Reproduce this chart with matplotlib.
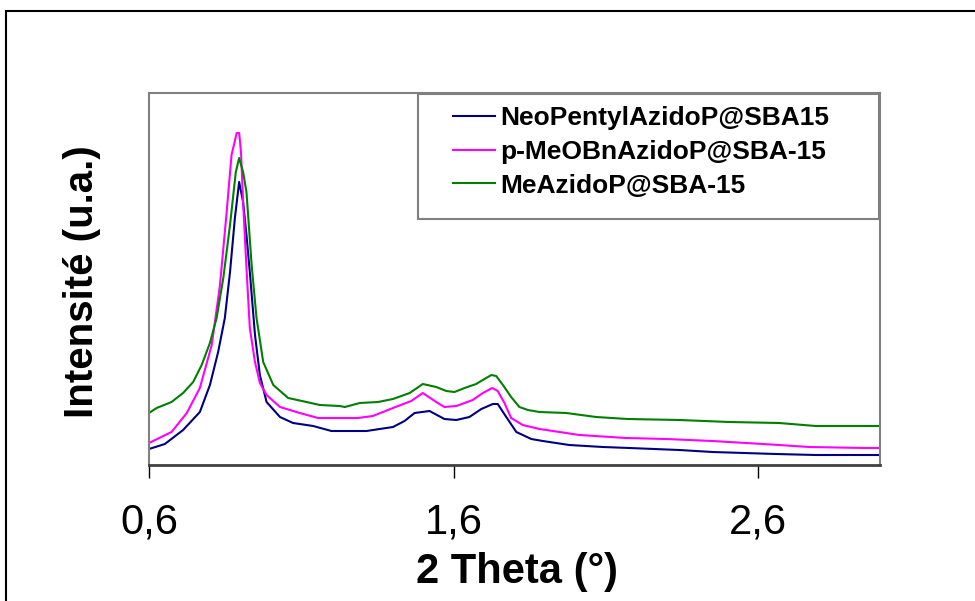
import numpy as np
import matplotlib
matplotlib.use("Agg")
import matplotlib.pyplot as plt
from matplotlib.patches import Rectangle

plt.rcParams['font.family'] = ['Liberation Sans', 'DejaVu Sans']

# XRD small-angle patterns (2 theta in degrees, intensity in arbitrary units)
x_neo = [0.60, 0.652, 0.712, 0.767, 0.800, 0.827, 0.849, 0.866, 0.882, 0.896, 0.909, 0.920, 0.931, 0.948, 0.964,
         0.986, 1.030, 1.073, 1.139, 1.199, 1.314, 1.401, 1.439, 1.472, 1.521, 1.570, 1.609, 1.652, 1.691, 1.729,
         1.745, 1.773, 1.806, 1.855, 1.893, 1.980, 2.090, 2.177, 2.341, 2.450, 2.658, 2.789, 3.000]
y_neo = [16, 21, 35, 53, 80, 113, 147, 193, 247, 283, 263, 230, 193, 130, 90,
         63, 48, 42, 39, 34, 34, 38, 44, 52, 54, 46, 45, 48, 56, 61,
         61, 48, 33, 26, 24, 20, 18, 17, 15, 13, 11, 10, 10]

x_meobn = [0.60, 0.674, 0.724, 0.767, 0.806, 0.833, 0.855, 0.871, 0.888, 0.896, 0.902, 0.909, 0.920, 0.931, 0.948,
           0.964, 0.986, 1.030, 1.095, 1.155, 1.286, 1.335, 1.401, 1.461, 1.499, 1.543, 1.570, 1.609, 1.663, 1.696,
           1.727, 1.745, 1.767, 1.789, 1.827, 1.882, 1.926, 2.013, 2.166, 2.297, 2.450, 2.560, 2.669, 2.767, 2.953, 3.000]
y_meobn = [22, 33, 52, 77, 120, 180, 253, 310, 332, 332, 313, 263, 197, 137, 103,
           82, 70, 58, 52, 47, 47, 49, 57, 64, 72, 63, 58, 59, 65, 72,
           77, 74, 62, 47, 40, 36, 34, 30, 27, 26, 24, 22, 20, 18, 17, 17]

x_me = [0.60, 0.625, 0.674, 0.712, 0.745, 0.773, 0.800, 0.822, 0.844, 0.866, 0.885, 0.896, 0.909, 0.920, 0.937,
        0.953, 0.975, 1.008, 1.057, 1.117, 1.161, 1.226, 1.243, 1.292, 1.352, 1.401, 1.456, 1.499, 1.543, 1.576,
        1.603, 1.636, 1.674, 1.696, 1.724, 1.740, 1.762, 1.789, 1.816, 1.844, 1.882, 1.970, 2.068, 2.171, 2.341,
        2.505, 2.669, 2.789, 3.000]
y_me = [52, 57, 63, 72, 83, 100, 122, 147, 187, 240, 293, 307, 293, 273, 200,
        147, 103, 80, 67, 63, 60, 59, 58, 62, 63, 66, 72, 81, 78, 74,
        73, 77, 81, 85, 90, 89, 80, 68, 58, 55, 53, 52, 48, 46, 45,
        43, 42, 39, 39]

labels = ['NeoPentylAzidoP@SBA15', 'p-MeOBnAzidoP@SBA-15', 'MeAzidoP@SBA-15']
colors = ['#000080', '#FF00FF', '#008000']
xticks = [0.6, 1.6, 2.6]
xtick_labels = ['0,6', '1,6', '2,6']

fig = plt.figure(figsize=(9.75, 6.01), dpi=100)
ax = fig.add_axes([149/975, 1 - 465/601, 731/975, 372/601])

ax.plot(x_neo, y_neo, color=colors[0], lw=1.5, label=labels[0])
ax.plot(x_meobn, y_meobn, color=colors[1], lw=1.5, label=labels[1])
ax.plot(x_me, y_me, color=colors[2], lw=1.5, label=labels[2])

ax.set_xlim(0.6, 3.0)
ax.set_ylim(0, 372)
ax.set_yticks([])
ax.set_xticks(xticks)
ax.set_xticklabels(xtick_labels, fontsize=30)
ax.tick_params(axis='x', direction='out', length=9, width=1, color='black', pad=18)

for s in ['top', 'left', 'right']:
    ax.spines[s].set_color('#808080')
    ax.spines[s].set_linewidth(1.5)
ax.spines['bottom'].set_color('#404040')
ax.spines['bottom'].set_linewidth(2)

# legend box + entries
ax.add_patch(Rectangle((0.368, 0.661), 0.6306, 0.336, transform=ax.transAxes,
                       fill=False, edgecolor='#808080', lw=1.5, zorder=5))
ax.legend(loc='upper left', bbox_to_anchor=(0.4159, 0.9646), frameon=False,
          borderpad=0, borderaxespad=0, handlelength=1.6, handletextpad=0.2,
          labelspacing=0.37, prop={'weight': 'bold', 'size': 19})

fig.text(517/975, 1 - 583/601, '2 Theta (°)', fontsize=30, fontweight='bold',
         ha='center', va='baseline')
fig.text(82/975, 1 - 282/601, 'Intensité (u.a.)', fontsize=29, fontweight='bold',
         ha='center', va='center', rotation=90)

# outer chart border
fig.add_artist(Rectangle((6/975, -0.1), 1.2, 1.1 - 11/601, transform=fig.transFigure,
                         fill=False, edgecolor='black', lw=1.5))

fig.savefig('out.png', dpi=100)
